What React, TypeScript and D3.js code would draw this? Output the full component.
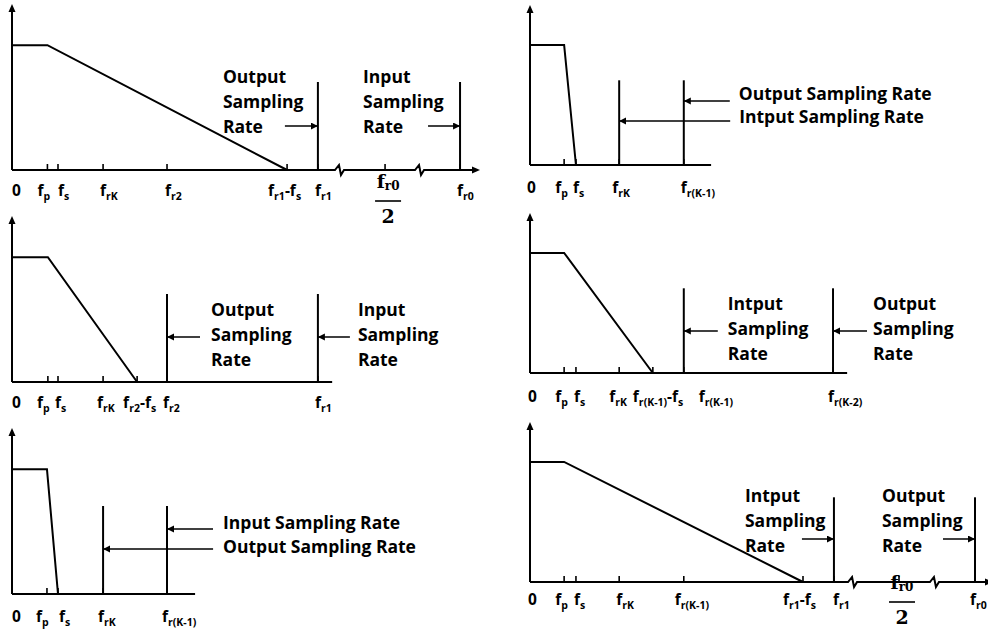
import React from "react";
import * as d3 from "d3";

// Six sketches of the decimation stages: passband response and the sampling rates.
// Frequencies are in arbitrary units, 0..100 spans the widest axis.
// Labels use "f_{x}" for f with subscript x; "f_{r0}/2" is drawn as a fraction.

const p1Labels = ["0", "f_{p}", "f_{s}", "f_{rK}", "f_{r2}", "f_{r1}-f_{s}", "f_{r1}", "f_{r0}/2", "f_{r0}"];
const p1Ticks = [0, 7.7, 10, 19.8, 33.7, 59.8, 66.5, 81.1, 97.4];
const p1CurveF = [0, 7.7, 59.8];
const p1CurveM = [0.78, 0.78, 0];
const p1Rates = [66.5, 97.4];
const p1Notes = ["Output Sampling Rate", "Input Sampling Rate"];

const p2Labels = ["0", "f_{p}", "f_{s}", "f_{rK}", "f_{r(K-1)}"];
const p2Ticks = [0, 7.5, 10.1, 19.6, 33.8];
const p2CurveF = [0, 7.5, 10.1];
const p2CurveM = [0.78, 0.78, 0];
const p2Rates = [33.8, 19.6];
const p2Notes = ["Output Sampling Rate", "Intput Sampling Rate"];

const p3Labels = ["0", "f_{p}", "f_{s}", "f_{rK}", "f_{r2}-f_{s}", "f_{r2}", "f_{r1}"];
const p3Ticks = [0, 7.8, 10, 19.8, 27.2, 33.7, 66.5];
const p3CurveF = [0, 7.8, 27.2];
const p3CurveM = [0.78, 0.78, 0];
const p3Rates = [33.7, 66.5];
const p3Notes = ["Output Sampling Rate", "Input Sampling Rate"];

const p4Labels = ["0", "f_{p}", "f_{s}", "f_{rK}", "f_{r(K-1)}-f_{s}", "f_{r(K-1)}", "f_{r(K-2)}"];
const p4Ticks = [0, 7.5, 10.1, 19.6, 27, 33.8, 66.6];
const p4CurveF = [0, 7.5, 27];
const p4CurveM = [0.78, 0.78, 0];
const p4Rates = [33.8, 66.6];
const p4Notes = ["Intput Sampling Rate", "Output Sampling Rate"];

const p5Labels = ["0", "f_{p}", "f_{s}", "f_{rK}", "f_{r(K-1)}"];
const p5Ticks = [0, 7.6, 10, 19.8, 33.7];
const p5CurveF = [0, 7.6, 10];
const p5CurveM = [0.78, 0.78, 0];
const p5Rates = [33.7, 19.8];
const p5Notes = ["Input Sampling Rate", "Output Sampling Rate"];

const p6Labels = ["0", "f_{p}", "f_{s}", "f_{rK}", "f_{r(K-1)}", "f_{r1}-f_{s}", "f_{r1}", "f_{r0}/2", "f_{r0}"];
const p6Ticks = [0, 7.5, 10.1, 19.6, 33.8, 60, 66.8, 81.1, 97.8];
const p6CurveF = [0, 7.5, 60];
const p6CurveM = [0.78, 0.78, 0];
const p6Rates = [66.8, 97.8];
const p6Notes = ["Intput Sampling Rate", "Output Sampling Rate"];

const RATE_LEVEL = 0.55;

type Note = { textDx: number; tailDx: number; arrowDy: number; textDy: number; stacked: boolean };
type Panel = {
  labels: string[]; ticks: number[]; curveF: number[]; curveM: number[];
  rates: number[]; notes: string[];
  x0: number; y0: number; w: number; h: number; axisEnd: number;
  arrow: boolean; breaks: number[]; labelDy: number; labelDx: number[];
  fracDy: number; noteLayout: Note[];
};

const panels: Panel[] = [
  {
    labels: p1Labels, ticks: p1Ticks, curveF: p1CurveF, curveM: p1CurveM, rates: p1Rates, notes: p1Notes,
    x0: 12, y0: 170, w: 460, h: 160, axisEnd: 100, arrow: true, breaks: [71.3, 88.7],
    labelDy: 26, labelDx: [0, -10, 0, -3, -2, -19, -3, 0, -3], fracDy: 18,
    noteLayout: [
      { textDx: -95, tailDx: -33, arrowDy: -44, textDy: -87, stacked: true },
      { textDx: -97, tailDx: -32, arrowDy: -44, textDy: -87, stacked: true },
    ],
  },
  {
    labels: p2Labels, ticks: p2Ticks, curveF: p2CurveF, curveM: p2CurveM, rates: p2Rates, notes: p2Notes,
    x0: 530, y0: 165, w: 455, h: 154, axisEnd: 39.8, arrow: false, breaks: [],
    labelDy: 28, labelDx: [-3, -9, -3, -7, -3], fracDy: 0,
    noteLayout: [
      { textDx: 55, tailDx: 46, arrowDy: -64, textDy: -65, stacked: false },
      { textDx: 120, tailDx: 111, arrowDy: -44, textDy: -42, stacked: false },
    ],
  },
  {
    labels: p3Labels, ticks: p3Ticks, curveF: p3CurveF, curveM: p3CurveM, rates: p3Rates, notes: p3Notes,
    x0: 12, y0: 382, w: 460, h: 160, axisEnd: 69.6, arrow: false, breaks: [],
    labelDy: 26, labelDx: [0, -11, -3, -6, -14, -4, -3], fracDy: 0,
    noteLayout: [
      { textDx: 44, tailDx: 33, arrowDy: -45, textDy: -66, stacked: true },
      { textDx: 40, tailDx: 32, arrowDy: -45, textDy: -66, stacked: true },
    ],
  },
  {
    labels: p4Labels, ticks: p4Ticks, curveF: p4CurveF, curveM: p4CurveM, rates: p4Rates, notes: p4Notes,
    x0: 530, y0: 373, w: 455, h: 154, axisEnd: 69.7, arrow: false, breaks: [],
    labelDy: 29, labelDx: [-2, -9, -2, -10, -20, 15, -5], fracDy: 0,
    noteLayout: [
      { textDx: 44, tailDx: 34, arrowDy: -42, textDy: -63, stacked: true },
      { textDx: 40, tailDx: 34, arrowDy: -42, textDy: -63, stacked: true },
    ],
  },
  {
    labels: p5Labels, ticks: p5Ticks, curveF: p5CurveF, curveM: p5CurveM, rates: p5Rates, notes: p5Notes,
    x0: 12, y0: 594, w: 460, h: 160, axisEnd: 39.8, arrow: false, breaks: [],
    labelDy: 28, labelDx: [0, -11, 1, -5, -5], fracDy: 0,
    noteLayout: [
      { textDx: 56, tailDx: 46, arrowDy: -65, textDy: -65, stacked: false },
      { textDx: 120, tailDx: 110, arrowDy: -45, textDy: -41, stacked: false },
    ],
  },
  {
    labels: p6Labels, ticks: p6Ticks, curveF: p6CurveF, curveM: p6CurveM, rates: p6Rates, notes: p6Notes,
    x0: 530, y0: 582, w: 455, h: 154, axisEnd: 100, arrow: true, breaks: [71, 89],
    labelDy: 23, labelDx: [-2, -9, -2, -3, -9, -20, -1, 0, -5], fracDy: 7,
    noteLayout: [
      { textDx: -89, tailDx: -32, arrowDy: -43, textDy: -80, stacked: true },
      { textDx: -93, tailDx: -32, arrowDy: -43, textDy: -80, stacked: true },
    ],
  },
];

const FONT = "'Open Sans', Lato, sans-serif";
const SERIF = "'DejaVu Serif', 'Liberation Serif', serif";

// split "f_{r1}-f_{s}" into normal / subscript runs
function parseLabel(s: string) {
  const parts: { t: string; sub: boolean }[] = [];
  const re = /_\{([^}]*)\}/g;
  let last = 0;
  let m: RegExpExecArray | null;
  while ((m = re.exec(s))) {
    if (m.index > last) parts.push({ t: s.slice(last, m.index), sub: false });
    parts.push({ t: m[1], sub: true });
    last = re.lastIndex;
  }
  if (last < s.length) parts.push({ t: s.slice(last), sub: false });
  return parts;
}

function Label({ x, y, text }: { x: number; y: number; text: string }) {
  const parts = parseLabel(text);
  let shifted = false;
  return (
    <text x={x} y={y} fontFamily={FONT} fontWeight={700} fontSize={15.5} fill="#000">
      {parts.map((p, i) => {
        let dy = 0;
        if (p.sub && !shifted) { dy = 4; shifted = true; }
        else if (!p.sub && shifted) { dy = -4; shifted = false; }
        return (
          <tspan key={i} dy={dy} fontSize={p.sub ? 10.5 : 15.5}>{p.t}</tspan>
        );
      })}
    </text>
  );
}

function Fraction({ cx, y, text }: { cx: number; y: number; text: string }) {
  const num = parseLabel(text.replace("/2", ""));
  return (
    <g fontFamily={SERIF} fontWeight={700} fill="#000">
      <text x={cx} y={y} textAnchor="middle" fontSize={19}>
        {num.map((p, i) => (
          <tspan key={i} fontSize={p.sub ? 12 : 19} dy={p.sub ? 2 : 0}>{p.t}</tspan>
        ))}
      </text>
      <line x1={cx - 13} x2={cx + 13} y1={y + 13} y2={y + 13} stroke="#000" strokeWidth={1.6} />
      <text x={cx} y={y + 35} textAnchor="middle" fontSize={19}>2</text>
    </g>
  );
}

function PanelView({ p, idx }: { p: Panel; idx: number }) {
  const x = d3.scaleLinear().domain([0, 100]).range([0, p.w]);
  const y = d3.scaleLinear().domain([0, 1]).range([0, -p.h]);
  const line = d3.line<[number, number]>().x((d) => x(d[0])).y((d) => y(d[1]));
  const curve = p.curveF.map((f, i) => [f, p.curveM[i]] as [number, number]);

  // x axis with zigzag breaks
  let axis = `M0,0`;
  p.breaks.forEach((b) => {
    const bx = x(b);
    axis += ` H${bx - 5} L${bx - 1},-5 L${bx + 1},5 L${bx + 4},0`;
  });
  axis += ` H${x(p.axisEnd)}`;

  const topY = y(1);
  const endX = x(p.axisEnd);
  const fracIdx = p.labels.findIndex((l) => l.includes("/2"));

  return (
    <g transform={`translate(${p.x0},${p.y0})`}>
      <path d={axis} fill="none" stroke="#000" strokeWidth={2} />
      {p.arrow && <path d={`M${endX + 8},0 L${endX},-3.5 L${endX},3.5 Z`} fill="#000" />}
      <line x1={0} x2={0} y1={0} y2={topY + 2} stroke="#000" strokeWidth={2} />
      <path d={`M0,${topY - 6} L-3.5,${topY + 2} L3.5,${topY + 2} Z`} fill="#000" />
      <path d={`M0,${y(p.curveM[0])} ${line(curve)!.replace("M", "L")}`} fill="none" stroke="#000" strokeWidth={2} />
      {p.ticks.slice(1).map((t, i) => (
        <line key={i} x1={x(t)} x2={x(t)} y1={0} y2={-6} stroke="#000" strokeWidth={1.6} />
      ))}
      {p.rates.map((r, i) => (
        <line key={i} x1={x(r)} x2={x(r)} y1={0} y2={y(RATE_LEVEL)} stroke="#000" strokeWidth={2} />
      ))}
      {p.labels.map((l, i) =>
        i === fracIdx ? (
          <Fraction key={i} cx={x(p.ticks[i]) + 3} y={p.fracDy} text={l} />
        ) : (
          <Label key={i} x={x(p.ticks[i]) + p.labelDx[i]} y={p.labelDy} text={l} />
        )
      )}
      {p.notes.map((n, i) => {
        const lay = p.noteLayout[i];
        const tx = x(p.rates[i]);
        const lines = lay.stacked ? n.split(" ") : [n];
        return (
          <g key={i}>
            <line
              x1={tx + lay.tailDx} x2={tx}
              y1={lay.arrowDy} y2={lay.arrowDy}
              stroke="#000" strokeWidth={1.6}
              markerEnd={`url(#ah${idx})`}
            />
            <text fontFamily={FONT} fontWeight={700} fontSize={17.5} fill="#000">
              {lines.map((t, j) => (
                <tspan key={j} x={tx + lay.textDx} y={lay.textDy + j * 25}>{t}</tspan>
              ))}
            </text>
          </g>
        );
      })}
    </g>
  );
}

export default function App() {
  return (
    <svg
      width={988}
      height={630}
      style={{ position: "absolute", left: 0, top: 0, background: "#fff" }}
    >
      <defs>
        {panels.map((_, i) => (
          <marker
            key={i} id={`ah${i}`} markerUnits="userSpaceOnUse"
            markerWidth={8} markerHeight={8} refX={7} refY={3.5} orient="auto"
          >
            <path d="M0,0 L7,3.5 L0,7 Z" fill="#000" />
          </marker>
        ))}
      </defs>
      <rect width={988} height={630} fill="#fff" />
      {panels.map((p, i) => (
        <PanelView key={i} p={p} idx={i} />
      ))}
    </svg>
  );
}
